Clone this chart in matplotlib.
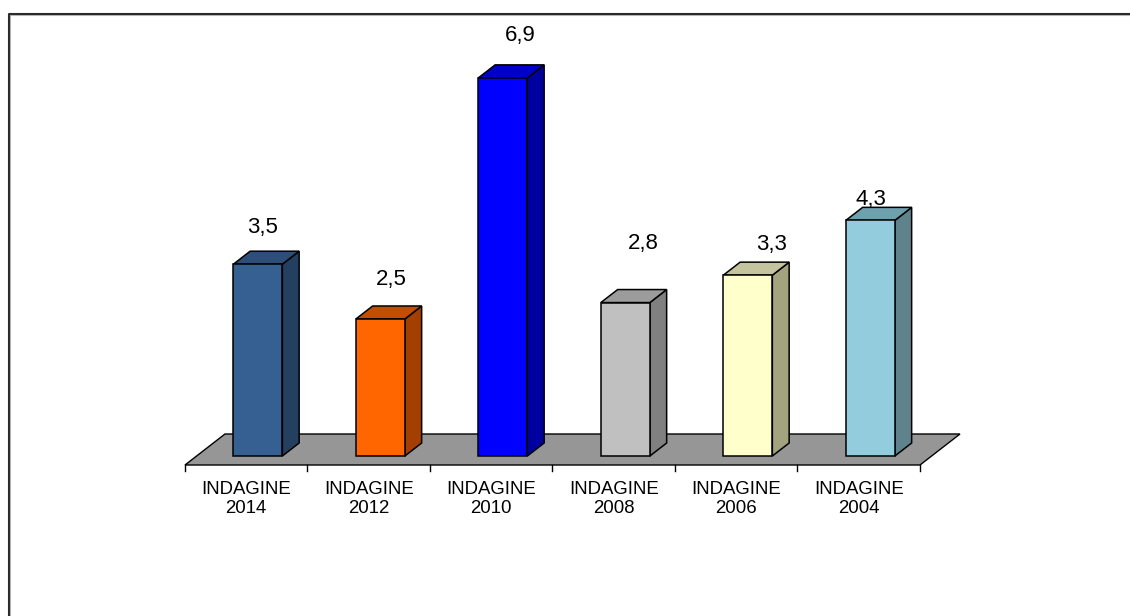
import matplotlib
matplotlib.use("Agg")
import matplotlib.pyplot as plt
from matplotlib.patches import Polygon
from matplotlib.lines import Line2D

plt.rcParams["font.family"] = ["Liberation Sans", "DejaVu Sans"]

# Survey editions and their values
categories = ["INDAGINE\n2014", "INDAGINE\n2012", "INDAGINE\n2010",
              "INDAGINE\n2008", "INDAGINE\n2006", "INDAGINE\n2004"]
values = [3.5, 2.5, 6.9, 2.8, 3.3, 4.3]

# Face colours of each bar: front, side, top
front_colors = ["#366092", "#FF6600", "#0000FF", "#C0C0C0", "#FFFFCC", "#93CDDD"]
side_colors = ["#243F60", "#A33F00", "#0000A0", "#808080", "#A3A37F", "#5E838D"]
top_colors = ["#2C4E78", "#C24E00", "#0000C8", "#9C9C9C", "#C4C49E", "#6FA0AD"]

# Nudges (pixels) of the value labels from the top of each bar
label_nudges = [(-3.5, 24.7), (3, 27.5), (8.5, 30.4), (10, 47), (15.5, 18.7), (-8, 9)]

W, H = 1130, 616
fig = plt.figure(figsize=(W / 100, H / 100), dpi=100)
ax = fig.add_axes([0, 0, 1, 1])

# screen scale: pixels per category and per value unit
PX_X, PX_Y = 122.5, 54.8
LEFT_PX, BASE_PX = 185, 465
ax.set_xlim(-0.5 - LEFT_PX / PX_X, -0.5 + (W - LEFT_PX) / PX_X)
ax.set_ylim(-(H - BASE_PX) / PX_Y, BASE_PX / PX_Y)
ax.axis("off")

# oblique projection of the depth direction
DX, DY = 40 / PX_X, 31 / PX_Y


def proj(x, z, d):
    return (x + d * DX, z + d * DY)


n = len(values)
# floor
floor = Polygon([proj(-0.5, 0, 0), proj(n - 0.5, 0, 0),
                 proj(n - 0.5, 0, 1), proj(-0.5, 0, 1)],
                closed=True, facecolor="#969696", edgecolor="black", lw=1.0, zorder=1)
ax.add_patch(floor)

# category ticks along the front edge of the floor
tick_len = 6 / PX_Y
for k in range(n + 1):
    ax.plot([k - 0.5, k - 0.5], [0, -tick_len], color="black", lw=1.0, zorder=1)

# bars
HW = 0.2
D1, D2 = 0.29, 0.71
for i, v in enumerate(values):
    fx, fy = proj(i, 0, D1)
    ax.bar(fx, v, width=2 * HW, bottom=fy, color=front_colors[i],
           edgecolor="black", lw=1.1, zorder=3)
    side = Polygon([proj(i + HW, 0, D1), proj(i + HW, v, D1),
                    proj(i + HW, v, D2), proj(i + HW, 0, D2)],
                   closed=True, facecolor=side_colors[i], edgecolor="black",
                   lw=1.1, zorder=2)
    top = Polygon([proj(i - HW, v, D1), proj(i + HW, v, D1),
                   proj(i + HW, v, D2), proj(i - HW, v, D2)],
                  closed=True, facecolor=top_colors[i], edgecolor="black",
                  lw=1.1, zorder=2)
    ax.add_patch(side)
    ax.add_patch(top)
    label = f"{v:.1f}".replace(".", ",")
    ax.annotate(label, xy=proj(i, v, 0.5), xytext=label_nudges[i],
                textcoords="offset pixels", ha="center", va="baseline",
                fontsize=16, color="black", zorder=5)

# category labels
for i, c in enumerate(categories):
    ax.text(i, -(499 - BASE_PX) / PX_Y, c, ha="center", va="center",
            fontsize=13.4, linespacing=1.13, color="black")

# chart area frame (top and left edges)
fx0 = 8.5 / W
fy0 = 1 - 13.5 / H
fig.add_artist(Line2D([fx0 + 1.5 / W, fx0 + 1.5 / W, 1], [0, fy0 - 1.5 / H, fy0 - 1.5 / H],
                      color="#BBBBBB", lw=0.8))
fig.add_artist(Line2D([fx0, fx0, 1], [0, fy0, fy0], color="#2B2B2B", lw=1.5))

fig.savefig("out.png", dpi=100, facecolor="white")
